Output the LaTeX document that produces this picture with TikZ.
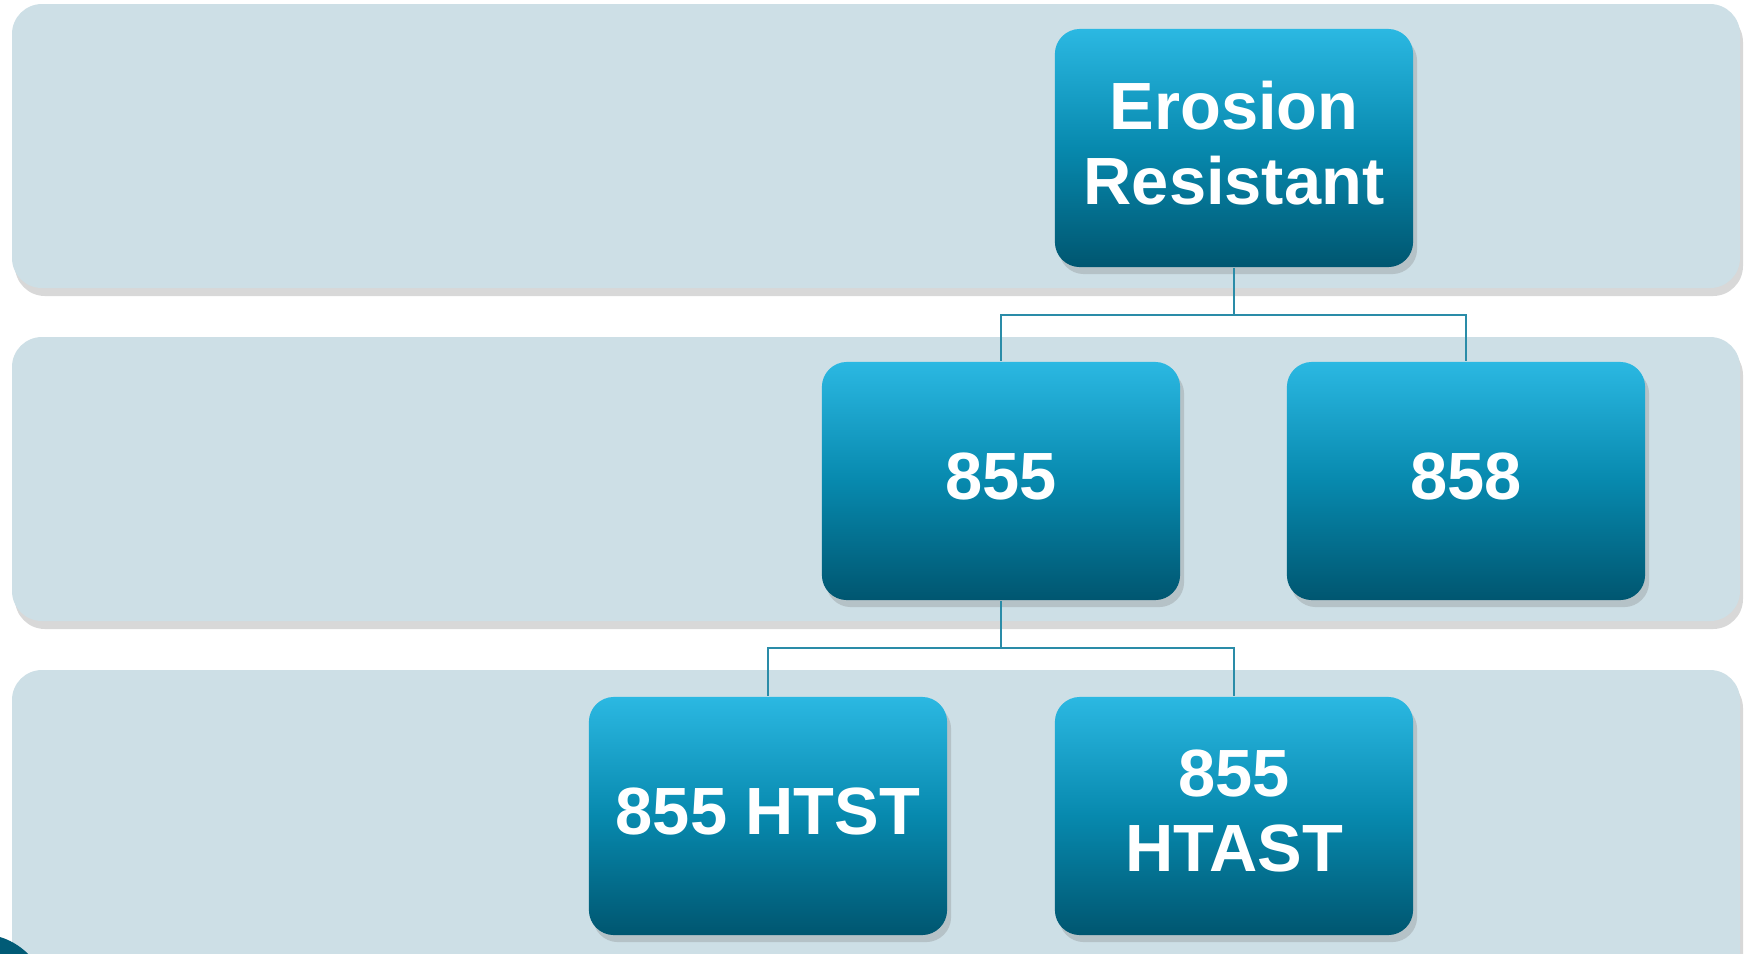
\documentclass[tikz,border=0pt]{standalone}
\usepackage{fontspec}
\setmainfont{Liberation Sans}
\usepackage{tikz}
\usetikzlibrary{shadows,positioning}
\usepackage{xcolor}
\definecolor{bandfill}{HTML}{CDDFE6}
\definecolor{boxtop}{HTML}{2BB8E2}
\definecolor{boxmid}{HTML}{0789AE}
\definecolor{boxbot}{HTML}{005670}
\definecolor{linkcol}{HTML}{2A8CA8}

\begin{document}
\begin{tikzpicture}[x=0.01cm,y=-0.01cm,
    band/.style={fill=bandfill,rounded corners=3mm,
      drop shadow={shadow xshift=0.3mm,shadow yshift=-0.8mm,opacity=0.3}},
    item/.style={rounded corners=2.5mm,minimum width=3.58cm,minimum height=2.38cm,
      top color=boxtop,bottom color=boxbot,middle color=boxmid,
      text=white,align=center,text depth=3pt,
      font=\fontsize{19}{21.5}\selectfont\bfseries,
      drop shadow={shadow xshift=0.4mm,shadow yshift=-0.7mm,opacity=0.3}},
    link/.style={draw=linkcol,line width=0.6pt}]
  \useasboundingbox (0,0) rectangle (1750,953);
  \clip (0,0) rectangle (1750,953);
  \fill[white] (0,0) rectangle (1750,953);

  % bands
  \path[band] (12,4) rectangle (1740,288);
  \path[band] (12,337) rectangle (1740,621);
  \path[band] (12,670) rectangle (1740,1000);
  \fill[boxbot!90!boxmid] (-20,1002) circle (68);

  % boxes
  \node[item] (ero)   at (1234,148) {Erosion\\Resistant};
  \node[item] (n855)  at (1001,481) {855};
  \node[item] (n858)  at (1466,481) {858};
  \node[item] (htst)  at (768,816)  {855 HTST};
  \node[item] (htast) at (1234,816) {855\\HTAST};

  % connectors
  \coordinate (j1) at (1234,315);
  \coordinate (j2) at (1001,648);
  \draw[link] (ero.south) -- (j1) -| (n855.north);
  \draw[link] (j1) -| (n858.north);
  \draw[link] (n855.south) -- (j2) -| (htst.north);
  \draw[link] (j2) -| (htast.north);
\end{tikzpicture}
\end{document}
